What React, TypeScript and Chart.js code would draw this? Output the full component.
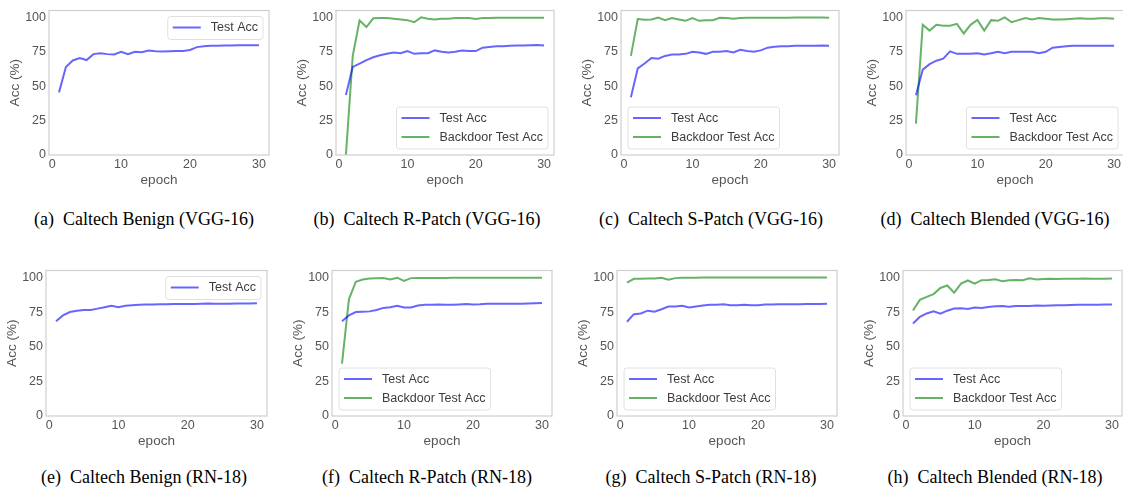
import React, { useEffect, useRef } from "react";
import { Chart, registerables } from "chart.js";

Chart.register(...registerables);

const epochs = [1, 2, 3, 4, 5, 6, 7, 8, 9, 10, 11, 12, 13, 14, 15, 16, 17, 18, 19, 20, 21, 22, 23, 24, 25, 26, 27, 28, 29, 30];
const yTicks = [0, 25, 50, 75, 100];
const xTicks = [0, 10, 20, 30];

const aTest = [45.5, 64, 68.7, 70.5, 69, 73.3, 74, 73.3, 73, 75, 73.3, 75, 74.7, 75.9, 75.4, 75.2, 75.4, 75.6, 75.6, 76.3, 78.4, 79, 79.3, 79.3, 79.5, 79.6, 79.8, 79.8, 79.8, 79.7];

const bTest = [43.6, 64, 66.4, 69, 71, 72.5, 73.5, 74.5, 74, 75.5, 73.5, 74, 74, 76, 75, 74.5, 75, 76, 75.5, 75.5, 78, 78.5, 79, 79, 79.3, 79.5, 79.6, 79.8, 79.9, 79.5];
const bBd = [0, 72, 97.7, 93, 99.3, 99.5, 99.5, 99, 98.5, 98, 96.5, 100, 99, 98.5, 99, 99, 99.5, 99.5, 99.5, 98.8, 99.5, 99.6, 99.7, 99.7, 99.7, 99.8, 99.8, 99.8, 99.8, 99.7];

const cTest = [42, 62.9, 66.5, 70.5, 70, 72, 73, 73, 73.5, 75, 74.5, 73.5, 75, 75, 75.5, 74.5, 76.5, 75.5, 75, 76, 78, 78.7, 79, 79, 79.3, 79.3, 79.3, 79.3, 79.5, 79.3];
const cBd = [72, 98.8, 98.3, 98.5, 99.8, 98, 99.5, 98.5, 97.5, 99.5, 97.5, 98, 98, 99.7, 99.5, 99, 99.5, 99.7, 99.7, 99.7, 99.8, 99.8, 99.8, 99.8, 99.9, 99.9, 99.9, 99.9, 99.9, 99.8];

const dTest = [43.4, 62, 66, 68.5, 70, 75.3, 73.5, 73.5, 73.5, 74, 73, 74, 75, 74, 75, 75, 75, 75, 74, 75, 78, 78.5, 79, 79.3, 79.3, 79.3, 79.3, 79.3, 79.3, 79.3];
const dBd = [22.8, 94.6, 90.4, 94.6, 94, 94, 95.3, 88.3, 94.6, 98.1, 90.4, 98, 97.5, 100, 96.5, 98, 99.5, 98.5, 99.5, 99, 98.5, 98.5, 98.7, 99, 99.3, 99, 99, 99.3, 99.3, 99];

const eTest = [68.4, 72.6, 75, 76, 76.5, 76.5, 77.5, 78.5, 79.5, 78.5, 79.5, 80, 80.3, 80.5, 80.5, 80.6, 80.7, 80.8, 80.8, 80.8, 80.9, 81, 81.2, 81, 81, 81, 81.1, 81.1, 81.2, 81.3];

const fTest = [68.4, 72.6, 75, 75.2, 75.5, 76.5, 78, 78.5, 79.5, 78.3, 78.3, 79.8, 80.3, 80.3, 80.5, 80.3, 80.2, 80.5, 80.8, 80.4, 80.6, 81, 81, 81, 81, 81, 81, 81.2, 81.3, 81.5];
const fBd = [37.8, 84.2, 96.9, 98.5, 99.2, 99.4, 99.5, 98.5, 99.8, 97.5, 99.5, 99.6, 99.6, 99.6, 99.6, 99.5, 99.7, 99.7, 99.7, 99.7, 99.7, 99.7, 99.7, 99.8, 99.8, 99.8, 99.8, 99.8, 99.8, 99.8];

const gTest = [68, 73.5, 74, 76, 75.2, 77, 79, 79, 79.5, 78.3, 79, 79.8, 80.2, 80.3, 80.6, 80, 80, 80.3, 80, 80, 80.4, 80.5, 80.6, 80.7, 80.6, 80.7, 80.8, 80.8, 80.9, 81];
const gBd = [96.3, 99, 99, 99.2, 99.2, 99.7, 98.3, 99.5, 99.8, 99.8, 99.8, 99.9, 99.9, 99.9, 99.9, 99.9, 99.9, 99.9, 99.9, 99.9, 99.9, 99.9, 99.9, 99.9, 99.9, 99.9, 99.9, 99.9, 99.9, 99.9];

const hTest = [66.8, 71.5, 74, 75.5, 73.8, 76, 77.5, 77.7, 77.3, 78.3, 78, 78.7, 79.2, 79.3, 78.8, 79.3, 79.3, 79.3, 79.8, 79.5, 79.8, 80, 80, 80.1, 80.2, 80.2, 80.3, 80.3, 80.4, 80.5];
const hBd = [76.1, 83.8, 86, 88, 92.4, 94.2, 89, 95.5, 97.8, 95.5, 98, 98.2, 98.7, 97.3, 98, 98.2, 98, 99.4, 98.5, 98.8, 99, 98.9, 99, 99, 99.1, 99.2, 99, 99, 99.1, 99.2];

const captions = [
  "(a)\u00a0\u00a0Caltech Benign (VGG-16)",
  "(b)\u00a0\u00a0Caltech R-Patch (VGG-16)",
  "(c)\u00a0\u00a0Caltech S-Patch (VGG-16)",
  "(d)\u00a0\u00a0Caltech Blended (VGG-16)",
  "(e)\u00a0\u00a0Caltech Benign (RN-18)",
  "(f)\u00a0\u00a0Caltech R-Patch (RN-18)",
  "(g)\u00a0\u00a0Caltech S-Patch (RN-18)",
  "(h)\u00a0\u00a0Caltech Blended (RN-18)",
];

const BLUE = "rgba(0,0,255,0.6)";
const GREEN = "rgba(0,128,0,0.6)";
const TEST_LABEL = "Test Acc";
const BD_LABEL = "Backdoor Test Acc";

type Series = { label: string; color: string; values: number[] };
type PanelDef = { left: number; top: number; width: number; height: number; series: Series[]; legend: "ur" | "lr" | "ll" };

const tOnly = (v: number[]): Series[] => [{ label: TEST_LABEL, color: BLUE, values: v }];
const tBd = (v: number[], b: number[]): Series[] => [
  { label: TEST_LABEL, color: BLUE, values: v },
  { label: BD_LABEL, color: GREEN, values: b },
];

const panels: PanelDef[] = [
  { left: 49, top: 4, width: 220, height: 151, series: tOnly(aTest), legend: "ur" },
  { left: 336, top: 4, width: 218, height: 151, series: tBd(bTest, bBd), legend: "lr" },
  { left: 621, top: 4, width: 218, height: 151, series: tBd(cTest, cBd), legend: "ll" },
  { left: 906, top: 4, width: 218, height: 151, series: tBd(dTest, dBd), legend: "lr" },
  { left: 46, top: 264, width: 221, height: 152, series: tOnly(eTest), legend: "ur" },
  { left: 332, top: 264, width: 220, height: 152, series: tBd(fTest, fBd), legend: "ll" },
  { left: 617, top: 264, width: 220, height: 152, series: tBd(gTest, gBd), legend: "ll" },
  { left: 903, top: 264, width: 219, height: 152, series: tBd(hTest, hBd), legend: "ll" },
];

const captionCenters = [144, 427, 711, 995];
const captionRows = [208, 466];

const PAD_L = 50;
const PAD_T = 4;
const PAD_R = 2;
const PAD_B = 40;
const SANS = "'Liberation Sans', Arial, sans-serif";

function Panel({ def }: { def: PanelDef }) {
  const ref = useRef<HTMLCanvasElement | null>(null);
  useEffect(() => {
    if (!ref.current) return;
    const legendPlugin = {
      id: "boxLegend",
      afterDatasetsDraw(chart: any) {
        const ctx = chart.ctx;
        const a = chart.chartArea;
        ctx.save();
        ctx.strokeStyle = "#cfcfcf";
        ctx.lineWidth = 1.2;
        ctx.strokeRect(a.left, a.top, a.right - a.left, a.bottom - a.top);
        ctx.restore();
      },
      afterDraw(chart: any) {
        const ctx = chart.ctx;
        const a = chart.chartArea;
        ctx.save();
        ctx.font = `12.5px ${SANS}`;
        let tw = 0;
        def.series.forEach((s) => (tw = Math.max(tw, ctx.measureText(s.label).width)));
        const bw = 5 + 28 + 10 + tw + 5;
        const bh = 4 + 19 * def.series.length;
        let bx = a.right - 6 - bw;
        let by = a.top + 6;
        if (def.legend === "lr") by = a.bottom - 6 - bh;
        if (def.legend === "ll") {
          bx = a.left + 7;
          by = a.bottom - 6 - bh;
        }
        ctx.beginPath();
        const r = 3;
        ctx.moveTo(bx + r, by);
        ctx.lineTo(bx + bw - r, by);
        ctx.quadraticCurveTo(bx + bw, by, bx + bw, by + r);
        ctx.lineTo(bx + bw, by + bh - r);
        ctx.quadraticCurveTo(bx + bw, by + bh, bx + bw - r, by + bh);
        ctx.lineTo(bx + r, by + bh);
        ctx.quadraticCurveTo(bx, by + bh, bx, by + bh - r);
        ctx.lineTo(bx, by + r);
        ctx.quadraticCurveTo(bx, by, bx + r, by);
        ctx.closePath();
        ctx.fillStyle = "rgba(255,255,255,0.85)";
        ctx.fill();
        ctx.strokeStyle = "#e0e0e0";
        ctx.lineWidth = 1;
        ctx.stroke();
        def.series.forEach((s, i) => {
          const cy = by + 11 + 19 * i;
          ctx.strokeStyle = s.color;
          ctx.lineWidth = 2;
          ctx.beginPath();
          ctx.moveTo(bx + 5, cy);
          ctx.lineTo(bx + 33, cy);
          ctx.stroke();
          ctx.fillStyle = "#3c3c3c";
          ctx.textBaseline = "middle";
          ctx.textAlign = "left";
          ctx.fillText(s.label, bx + 43, cy + 0.5);
        });
        ctx.restore();
      },
    };
    const chart = new Chart(ref.current, {
      type: "line",
      data: {
        datasets: def.series.map((s) => ({
          label: s.label,
          data: s.values.map((v, i) => ({ x: epochs[i], y: v })),
          borderColor: s.color,
          backgroundColor: s.color,
          borderWidth: 2,
          pointRadius: 0,
          tension: 0,
          fill: false,
        })),
      },
      options: {
        responsive: false,
        animation: false,
        devicePixelRatio: 1,
        layout: { padding: { left: 0, top: PAD_T, right: PAD_R, bottom: 0 } },
        plugins: { legend: { display: false }, tooltip: { enabled: false } },
        scales: {
          x: {
            type: "linear",
            min: -0.45,
            max: 31.45,
            grid: { display: false, drawTicks: false },
            border: { display: false },
            afterBuildTicks: (s: any) => {
              s.ticks = xTicks.map((v) => ({ value: v }));
            },
            afterFit: (s: any) => {
              s.height = PAD_B;
            },
            ticks: { color: "#555", font: { family: SANS, size: 12.5 }, padding: 2, maxRotation: 0, autoSkip: false },
            title: { display: true, text: "epoch", color: "#555", font: { family: SANS, size: 13.5 }, padding: { top: 0, bottom: 7 } },
          },
          y: {
            type: "linear",
            min: 0,
            max: 105,
            grid: { display: false, drawTicks: false },
            border: { display: false },
            afterBuildTicks: (s: any) => {
              s.ticks = yTicks.map((v) => ({ value: v }));
            },
            afterFit: (s: any) => {
              s.width = PAD_L;
            },
            ticks: { color: "#555", font: { family: SANS, size: 12.5 }, padding: 3 },
            title: { display: true, text: "Acc (%)", color: "#555", font: { family: SANS, size: 13.5 }, padding: { top: 8, bottom: 0 } },
          },
        },
      },
      plugins: [legendPlugin],
    } as any);
    return () => chart.destroy();
  }, [def]);
  const w = def.width + PAD_L + PAD_R;
  const h = def.height + PAD_T + PAD_B;
  return (
    <canvas
      ref={ref}
      width={w}
      height={h}
      style={{ position: "absolute", left: def.left - PAD_L, top: def.top - PAD_T, width: w, height: h }}
    />
  );
}

export default function App() {
  return (
    <div style={{ position: "absolute", left: 0, top: 0, width: 1123, height: 488, overflow: "hidden", background: "#fff" }}>
      {panels.map((p, i) => (
        <Panel key={i} def={p} />
      ))}
      {captions.map((c, i) => (
        <div
          key={"c" + i}
          style={{
            position: "absolute",
            left: captionCenters[i % 4] - 140,
            top: captionRows[Math.floor(i / 4)],
            width: 280,
            textAlign: "center",
            fontFamily: "'Liberation Serif', 'Times New Roman', serif",
            fontSize: 18,
            lineHeight: "22px",
            color: "#000",
            whiteSpace: "nowrap",
          }}
        >
          {c}
        </div>
      ))}
    </div>
  );
}
